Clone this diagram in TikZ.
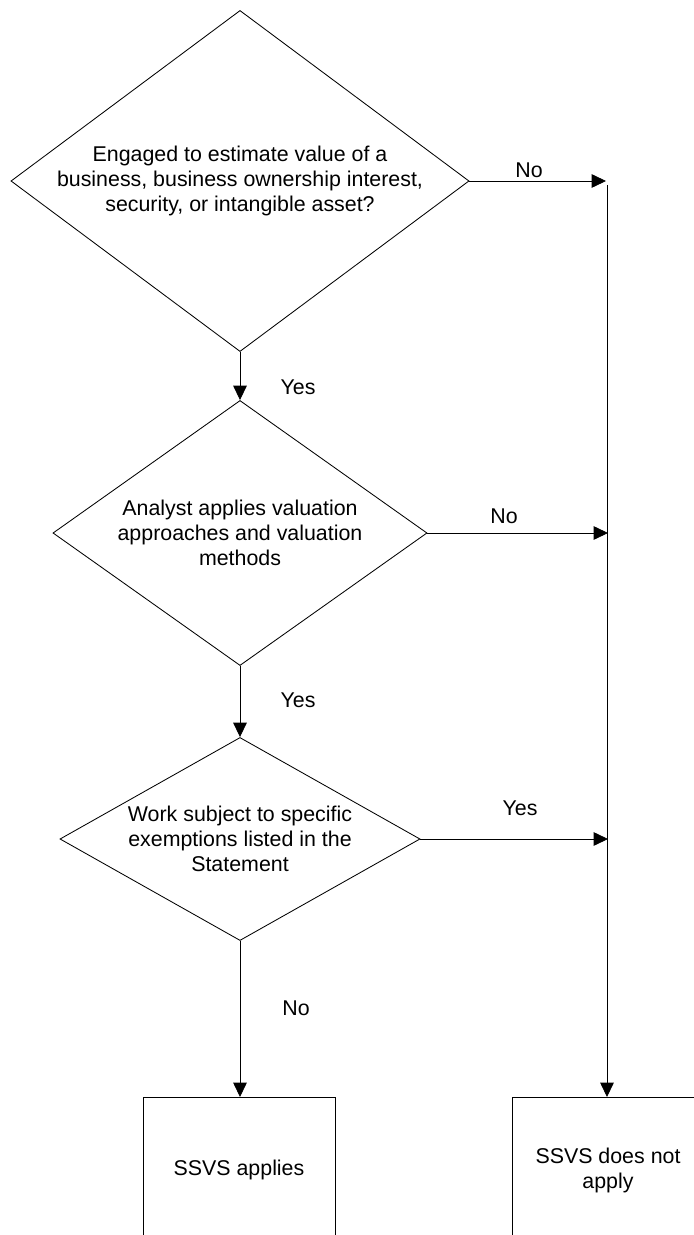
\documentclass[tikz,border=0pt]{standalone}
\usepackage{fontspec}
\setmainfont{Liberation Sans}
\usetikzlibrary{shapes.geometric,arrows.meta}

\begin{document}
\begin{tikzpicture}[x=0.025cm,y=-0.025cm,
        every node/.style={font=\fontsize{15.2pt}{17.8pt}\selectfont},
        decision/.style={diamond,draw,line width=0.6pt,inner sep=0pt},
        txt/.style={align=center,inner sep=0pt},
        outcome/.style={draw,line width=0.6pt,anchor=north,minimum width=4.8cm,minimum height=3.65cm,align=center},
        flow/.style={-{Triangle[length=0.36cm,width=0.34cm]},line width=0.6pt}]
        \useasboundingbox (0,0) rectangle (694,1235);
        \clip (0,0) rectangle (694,1235);
        \node[decision,minimum width=11.45cm,minimum height=8.525cm] (q1) at (240,181) {};
        \node[txt] (q1text) at (q1) {Engaged to estimate value of a\\business, business ownership interest,\\security, or intangible asset?};
        \node[decision,minimum width=9.35cm,minimum height=6.625cm] (q2) at (240,533) {};
        \node[txt] (q2text) at (q2) {Analyst applies valuation\\approaches and valuation\\methods};
        \node[decision,minimum width=9cm,minimum height=5.075cm] (q3) at (240,839) {};
        \node[txt] (q3text) at (q3) {Work subject to specific\\exemptions listed in the\\Statement};
        \node[outcome] (out1) at (239,1097) {SSVS applies};
        \node[outcome] (out2) at (608,1097) {SSVS does not\\apply};
        \coordinate (j1) at (606,181);
        \coordinate (j2) at (608,533);
        \coordinate (j3) at (608,839);
        \coordinate (jtop) at (607,185);
        \draw[flow] (q1.east) -- (j1);
        \draw[flow] (q2.east) -- (j2);
        \draw[flow] (q3.east) -- (j3);
        \draw[flow] (q1.south) -- (q2.north);
        \draw[flow] (q2.south) -- (q3.north);
        \draw[flow] (q3.south) -- (q3.south |- out1.north);
        \draw[flow] (jtop) -- (jtop |- out2.north);
        \node (no1) at (529,170) {No};
        \node (yes1) at (298,387) {Yes};
        \node (no2) at (504,516) {No};
        \node (yes2) at (298,700) {Yes};
        \node (yes3) at (520,808) {Yes};
        \node (no3) at (296,1008) {No};
\end{tikzpicture}
\end{document}
